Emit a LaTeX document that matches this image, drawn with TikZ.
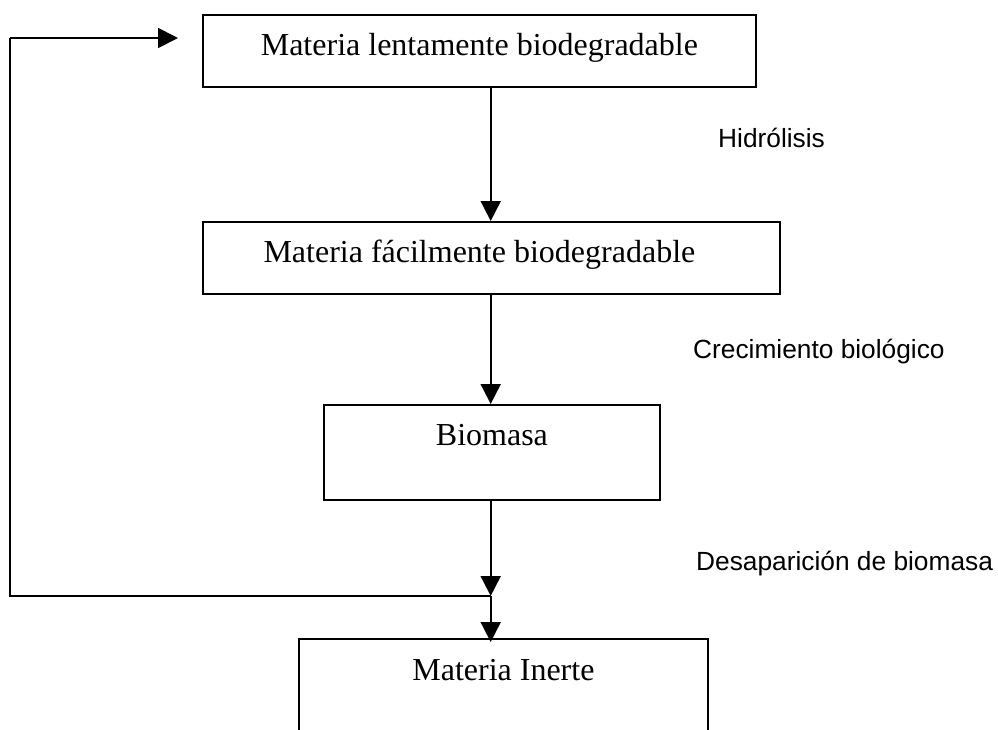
\documentclass[tikz,border=0pt]{standalone}
\usepackage{fontspec}
\setmainfont{Liberation Serif}
\newfontfamily\lblfont{Liberation Sans}
\usetikzlibrary{arrows.meta,calc}
\tikzset{
  box/.style={draw, line width=1.8pt, inner sep=0pt, anchor=north west,
    font=\fontsize{32}{38}\selectfont},
  lbl/.style={anchor=base west, inner sep=0pt, font=\lblfont\fontsize{26.3}{31}\selectfont},
  arr/.style={line width=1.8pt, -{Triangle[length=20pt,width=20pt]}},
  ln/.style={line width=1.8pt}
}
\begin{document}
\begin{tikzpicture}[x=1pt,y=-1pt]
\useasboundingbox (0,0) rectangle (998,729);
\clip (0,0) rectangle (998,729);
\node[box, minimum width=553pt, text height=41pt, text depth=31pt] (b1) at (202,14) {Materia lentamente biodegradable};
\node[box, minimum width=577pt, text height=41pt, text depth=31pt] (b2) at (202,221) {\makebox[0pt]{\hspace{-24pt}Materia fácilmente biodegradable}};
\node[box, minimum width=336pt, text height=41pt, text depth=54pt] (b3) at (323,404) {Biomasa};
\node[box, minimum width=409pt, text height=42pt, text depth=100pt] (b4) at (298,638) {Materia Inerte};
\node[lbl] (l1) at (718,147) {Hidrólisis};
\node[lbl] (l2) at (693,358) {Crecimiento biológico};
\node[lbl] (l3) at (696,570) {Desaparición de biomasa};
\coordinate (ax) at (490.7,0);
\coordinate (j) at (490.7,596);
\coordinate (fa) at (10,596);
\coordinate (fb) at (10,38);
\coordinate (ftip) at (178,38);
\draw[arr] (b1.south -| ax) -- (b2.north -| ax);
\draw[arr] (b2.south -| ax) -- (b3.north -| ax);
\draw[arr] (b3.south -| ax) -- (j);
\draw[arr, shorten >=-4pt] (j) -- (b4.north -| ax);
\draw[ln] (j) -- (fa) -- (fb);
\draw[arr] (fb) -- (ftip);
\end{tikzpicture}
\end{document}
